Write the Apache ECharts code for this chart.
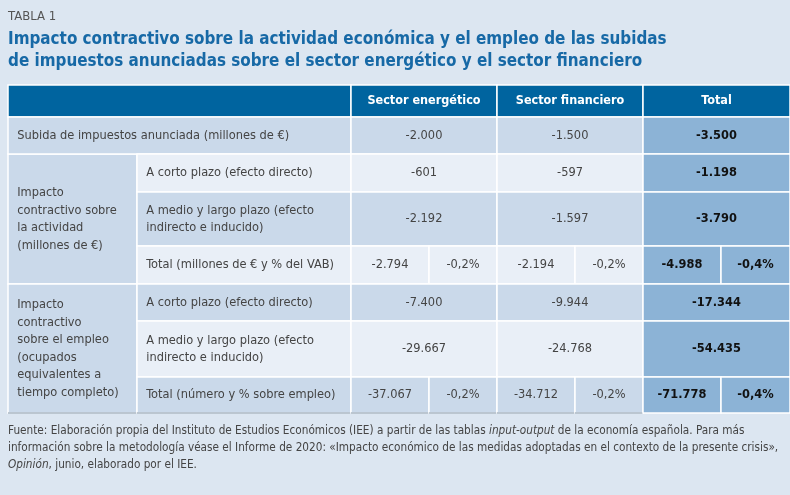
<!DOCTYPE html>
<html><head><meta charset="utf-8">
<script src="https://cdn.jsdelivr.net/npm/echarts@6/dist/echarts.min.js"></script>
<style>html,body{margin:0;padding:0;background:#dce6f1}#c{width:790px;height:495px}</style>
</head><body><div id="c"></div>
<script>
// ---- data ----
var tableTag = 'TABLA 1';
var titleLines = ['Impacto contractivo sobre la actividad económica y el empleo de las subidas',
                  'de impuestos anunciadas sobre el sector energético y el sector financiero'];
var columnHeaders = ['Sector energético', 'Sector financiero', 'Total'];
var groupLabels = ['Impacto\ncontractivo sobre\nla actividad\n(millones de €)',
                   'Impacto\ncontractivo\nsobre el empleo\n(ocupados\nequivalentes a\ntiempo completo)'];
var rowLabels = ['Subida de impuestos anunciada (millones de €)',
                 'A corto plazo (efecto directo)',
                 'A medio y largo plazo (efecto\nindirecto e inducido)',
                 'Total (millones de € y % del VAB)',
                 'A corto plazo (efecto directo)',
                 'A medio y largo plazo (efecto\nindirecto e inducido)',
                 'Total (número y % sobre empleo)'];
var energetico = [-2000, -601, -2192, -2794, -7400, -29667, -37067];
var financiero = [-1500, -597, -1597, -2194, -9944, -24768, -34712];
var total      = [-3500, -1198, -3790, -4988, -17344, -54435, -71778];
var pctEnergetico = [null, null, null, -0.2, null, null, -0.2];
var pctFinanciero = [null, null, null, -0.2, null, null, -0.2];
var pctTotal      = [null, null, null, -0.4, null, null, -0.4];
var sourceNote = [
  [['n', 'Fuente: Elaboración propia del Instituto de Estudios Económicos (IEE) a partir de las tablas '], ['i', 'input-output'], ['n', ' de la economía española. Para más']],
  [['n', 'información sobre la metodología véase el Informe de 2020: «Impacto económico de las medidas adoptadas en el contexto de la presente crisis»,']],
  [['i', 'Opinión'], ['n', ', junio, elaborado por el IEE.']]
];

// ---- layout (table units) ----
var colEdges = [0, 129, 343, 421, 489, 567, 635, 713, 782];
var rowEdges = [0, 32, 69, 107, 161, 199, 236, 292, 328];
var FONT = "'DejaVu Sans Condensed', 'Liberation Sans Narrow', Roboto, sans-serif";
var styles = {
  head:  {fill: '#00649f', color: '#ffffff', weight: 'bold', size: 12.5},
  mid:   {fill: '#cad9ea', color: '#444444', weight: 'normal', size: 12.7},
  light: {fill: '#e9eff7', color: '#444444', weight: 'normal', size: 12.7},
  tot:   {fill: '#8cb3d6', color: '#111111', weight: 'bold', size: 12.7}
};
var rowStyle = ['mid', 'light', 'mid', 'light', 'mid', 'light', 'mid'];

function fmtNum(v) {
  var s = Math.abs(v).toString().replace(/\B(?=(\d{3})+(?!\d))/g, '.');
  return (v < 0 ? '-' : '') + s;
}
function fmtPct(v) { return (v < 0 ? '-' : '') + Math.abs(v).toFixed(1).replace('.', ',') + '%'; }

var cells = [];
function add(c0, c1, r0, r1, text, style, align) {
  cells.push({value: [colEdges[c0], colEdges[c1], rowEdges[r0], rowEdges[r1]], text: text, style: style, align: align || 'center', lastRow: r1 === rowEdges.length - 1});
}
add(0, 2, 0, 1, '', 'head');
for (var h = 0; h < columnHeaders.length; h++) add(2 + 2 * h, 4 + 2 * h, 0, 1, columnHeaders[h], 'head');
add(0, 1, 2, 5, groupLabels[0], 'mid', 'left');
add(0, 1, 5, 8, groupLabels[1], 'mid', 'left');
for (var r = 0; r < rowLabels.length; r++) {
  var R = r + 1, st = rowStyle[r];
  if (r === 0) add(0, 2, R, R + 1, rowLabels[r], st, 'left');
  else add(1, 2, R, R + 1, rowLabels[r], st, 'left');
  if (pctEnergetico[r] != null) {
    add(2, 3, R, R + 1, fmtNum(energetico[r]), st);
    add(3, 4, R, R + 1, fmtPct(pctEnergetico[r]), st);
    add(4, 5, R, R + 1, fmtNum(financiero[r]), st);
    add(5, 6, R, R + 1, fmtPct(pctFinanciero[r]), st);
    add(6, 7, R, R + 1, fmtNum(total[r]), 'tot');
    add(7, 8, R, R + 1, fmtPct(pctTotal[r]), 'tot');
  } else {
    add(2, 4, R, R + 1, fmtNum(energetico[r]), st);
    add(4, 6, R, R + 1, fmtNum(financiero[r]), st);
    add(6, 8, R, R + 1, fmtNum(total[r]), 'tot');
  }
}

var richFoot = {
  n: {fontFamily: FONT, fontSize: 11.7, fontWeight: 'normal', color: '#444444', lineHeight: 17},
  i: {fontFamily: FONT, fontSize: 11.7, fontWeight: 'normal', color: '#444444', fontStyle: 'italic', lineHeight: 17}
};
var footText = sourceNote.map(function (line) {
  return line.map(function (p) { return '{' + p[0] + '|' + p[1] + '}'; }).join('');
}).join('\n');

var chart = echarts.init(document.getElementById('c'));
chart.setOption({
  backgroundColor: '#dce6f1',
  animation: false,
  title: [
    {text: tableTag, left: 8, top: 10, padding: 0,
     textStyle: {fontFamily: FONT, fontSize: 13, fontWeight: 'normal', color: '#555555'}},
    {text: titleLines.join('\n'), left: 8, top: 29, padding: 0,
     textStyle: {fontFamily: FONT, fontSize: 16.9, fontWeight: 'bold', color: '#1769a6', lineHeight: 22}},
    {text: footText, left: 8, top: 422, padding: 0, textStyle: {rich: richFoot, fontWeight: 'normal', lineHeight: 17}}
  ],
  grid: {left: 8, right: 0, top: 85, bottom: 82},
  xAxis: {type: 'value', min: 0, max: colEdges[colEdges.length - 1], show: false},
  yAxis: {type: 'value', min: 0, max: rowEdges[rowEdges.length - 1], inverse: true, show: false},
  series: [{
    type: 'custom',
    data: cells.map(function (c) { return c.value; }),
    encode: {x: [0, 1], y: [2, 3]},
    renderItem: function (params, api) {
      var c = cells[params.dataIndex];
      var st = styles[c.style];
      var p0 = api.coord([api.value(0), api.value(2)]);
      var p1 = api.coord([api.value(1), api.value(3)]);
      var children = [{
        type: 'rect',
        shape: {x: p0[0], y: p0[1], width: p1[0] - p0[0], height: p1[1] - p0[1]},
        style: {fill: st.fill, stroke: '#ffffff', lineWidth: 1.5},
        textContent: {style: {text: c.text, fill: st.color, fontFamily: FONT, fontSize: st.size, fontWeight: st.weight, lineHeight: 17.5}},
        textConfig: c.align === 'left' ? {position: 'insideLeft', distance: 10} : {position: 'inside'}
      }];
      if (c.lastRow && c.style !== 'tot') {
        children.push({type: 'line', shape: {x1: p0[0], y1: p1[1], x2: p1[0], y2: p1[1]}, style: {stroke: '#a7b4c2', lineWidth: 1.5}});
      }
      return {type: 'group', children: children};
    }
  }]
});
</script></body></html>
